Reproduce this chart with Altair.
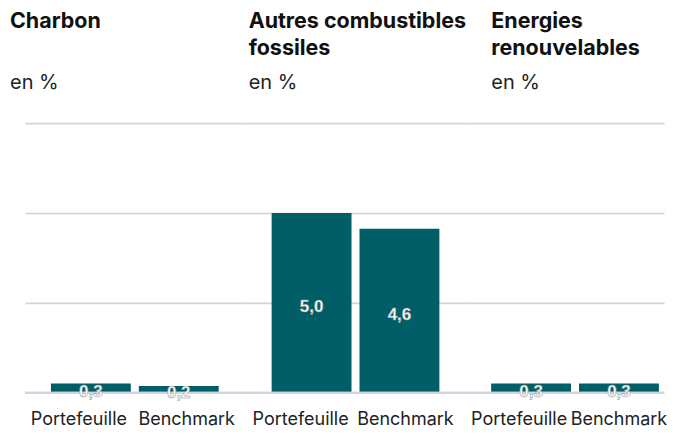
import altair as alt
import pandas as pd

groups = ["Charbon", "Autres combustibles fossiles", "Energies renouvelables"]
title_lines = [["Charbon", " "], ["Autres combustibles", "fossiles"], ["Energies", "renouvelables"]]
series = ["Portefeuille", "Benchmark"]
portefeuille = [0.26, 5.0, 0.26]
benchmark = [0.19, 4.56, 0.26]
y_ticks = [0, 2.5, 5, 7.5]

BAR = "#005f66"
FONT = "Inter"

panel_widths = [220, 220, 200]
panel_pad_outer = [26 / 88, 26 / 88, 16 / 88]
panel_align = [0.5, 0.52, 0.84]
title_dx = [-14, 5, 28]
label_shift_p = [-12, -11, -12]
label_shift_b = [8, 6, 0]


def panel(i):
    df = pd.DataFrame({
        "serie": series,
        "valeur": [portefeuille[i], benchmark[i]],
    })
    base = alt.Chart(df)
    xenc = alt.X(
        "serie:N",
        sort=series,
        scale=alt.Scale(paddingInner=8 / 88, paddingOuter=panel_pad_outer[i], align=panel_align[i]),
        axis=alt.Axis(
            title=None, labelAngle=0, ticks=False, domain=False, grid=False, labelPadding=18,
            labelFontSize=18, labelColor="#222222", labelFont=FONT, labelFontWeight="normal",
            labelOverlap=False,
            labelOffset={"condition": {"test": "datum.value === 'Portefeuille'", "value": label_shift_p[i]},
                         "value": label_shift_b[i]},
        ),
    )
    yscale = alt.Scale(domain=[0, 7.5], nice=False)
    bars = base.mark_bar(color=BAR).encode(
        x=xenc,
        y=alt.Y("valeur:Q", scale=yscale,
                axis=alt.Axis(title=None, labels=False, ticks=False, domain=False, values=y_ticks,
                              grid=True, gridColor="#d3d3d3", gridWidth=1.6)),
    )
    zero = base.mark_rule(color="#cfd5e2", strokeWidth=2).encode(y=alt.datum(0))
    labels = base.transform_calculate(
        mid="datum.valeur / 2",
        lab="replace(format(datum.valeur, '.1f'), '.', ',')",
    ).mark_text(
        color="white", fontWeight="bold", fontSize=17, font="Liberation Sans",
        stroke="#8f8f8f", strokeWidth=0.5, dy=4, baseline="middle",
    ).encode(
        x=alt.X("serie:N", sort=series),
        y=alt.Y("mid:Q", scale=yscale),
        text="lab:N",
    )
    return alt.layer(bars, zero, labels).properties(
        width=panel_widths[i],
        height=270,
        title=alt.Title(
            text=title_lines[i],
            subtitle="en %",
            anchor="start",
            dx=title_dx[i],
            font=FONT,
            fontSize=21.5,
            fontWeight="bold",
            color="#111111",
            lineHeight=27,
            subtitleFont=FONT,
            subtitleFontSize=20,
            subtitleColor="#222222",
            subtitlePadding=14,
            offset=30,
        ),
    )


chart = alt.hconcat(panel(0), panel(1), panel(2), spacing=0, bounds="flush").properties(
    padding={"left": 2, "top": 2, "right": 0, "bottom": 0},
    background="white",
).configure_view(
    stroke="transparent", strokeWidth=0
).configure_axis(domain=False)

chart.save("out.html", embed_options={"renderer": "svg", "actions": False})
